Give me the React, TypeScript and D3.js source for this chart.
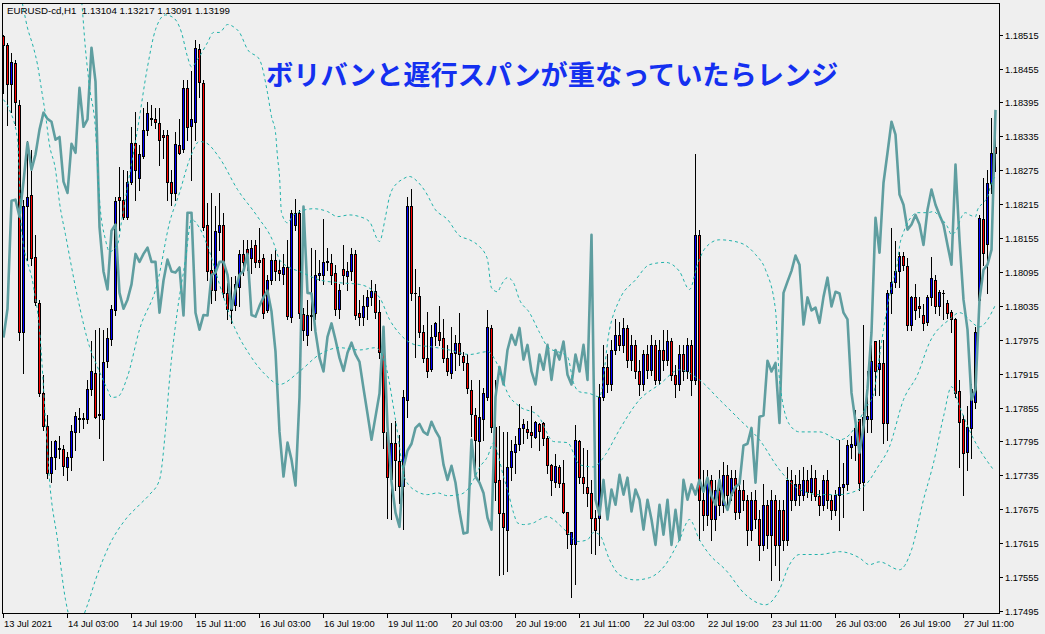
import React, { useEffect, useRef } from "react";
import * as d3 from "d3";

const W = 1045;
const H = 634;
const BG = "#efefef";

const HEADER = "EURUSD-cd,H1  1.13104 1.13217 1.13091 1.13199";
const TITLE = "ボリバンと遅行スパンが重なっていたらレンジ";

const Y_TICKS = [1.18515, 1.18455, 1.18395, 1.18335, 1.18275, 1.18215, 1.18155, 1.18095, 1.18035, 1.17975, 1.17915, 1.17855, 1.17795, 1.17735, 1.17675, 1.17615, 1.17555, 1.17495];
const X_LABELS = ["13 Jul 2021", "14 Jul 03:00", "14 Jul 19:00", "15 Jul 11:00", "16 Jul 03:00", "16 Jul 19:00", "19 Jul 11:00", "20 Jul 03:00", "20 Jul 19:00", "21 Jul 11:00", "22 Jul 03:00", "22 Jul 19:00", "23 Jul 11:00", "26 Jul 03:00", "26 Jul 19:00", "27 Jul 11:00"];
const X_LABEL_BARS = [0, 16, 32, 48, 64, 80, 96, 112, 128, 144, 160, 176, 192, 208, 224, 240];

const opens = [1.18512,1.18497,1.18427,1.18465,1.18391,1.17988,1.18211,1.18232,1.18122,1.18041,
1.17880,1.17823,1.17740,1.17768,1.17784,1.17782,1.17749,1.17768,1.17812,1.17837,
1.17837,1.17835,1.17888,1.17917,1.17844,1.17835,1.17938,1.17977,1.18028,1.18228,
1.18223,1.18193,1.18255,1.18324,1.18262,1.18301,1.18347,1.18368,1.18366,1.18359,
1.18338,1.18338,1.18255,1.18235,1.18320,1.18313,1.18421,1.18354,1.18361,1.18490,
1.18430,1.18179,1.18099,1.18064,1.18166,1.18179,1.18057,1.18028,1.18037,1.18069,
1.18127,1.18136,1.18120,1.18143,1.18117,1.18119,1.18028,1.18080,1.18117,1.18099,
1.18092,1.18104,1.18016,1.18179,1.18200,1.18021,1.17984,1.18019,1.18023,1.18090,
1.18090,1.18115,1.18111,1.18094,1.18030,1.18101,1.18088,1.18096,1.18127,1.18023,
1.18016,1.18034,1.18050,1.18062,1.18025,1.17954,1.17812,1.17729,1.17793,1.17761,
1.17717,1.17869,1.18211,1.18058,1.18053,1.17989,1.17942,1.17924,1.17982,1.17988,
1.17979,1.17943,1.17917,1.17952,1.17970,1.17947,1.17934,1.17887,1.17842,1.17795,
1.17835,1.17874,1.17996,1.17821,1.17727,1.17669,1.17639,1.17749,1.17777,1.17791,
1.17819,1.17818,1.17812,1.17803,1.17826,1.17828,1.17802,1.17754,1.17724,1.17750,
1.17722,1.17671,1.17614,1.17614,1.17796,1.17733,1.17715,1.17703,1.17660,1.17660,
1.17874,1.17927,1.17896,1.17957,1.17984,1.17966,1.17996,1.17940,1.17966,1.17919,
1.17896,1.17949,1.17922,1.17966,1.17904,1.17957,1.17940,1.17972,1.17913,1.17896,
1.17949,1.17919,1.17966,1.17904,1.18161,1.17692,1.17665,1.17727,1.17657,1.17710,
1.17683,1.17736,1.17701,1.17731,1.17671,1.17710,1.17692,1.17639,1.17692,1.17657,
1.17612,1.17683,1.17630,1.17692,1.17612,1.17674,1.17621,1.17727,1.17692,1.17719,
1.17701,1.17727,1.17706,1.17731,1.17699,1.17683,1.17727,1.17692,1.17674,1.17701,
1.17715,1.17720,1.17786,1.17788,1.17834,1.17724,1.17834,1.17834,1.17973,1.17924,
1.17934,1.17827,1.18058,1.18078,1.18097,1.18124,1.18106,1.18002,1.18050,1.18034,
1.18019,1.18007,1.18050,1.18081,1.18034,1.18058,1.18041,1.18025,1.18011,1.17885,
1.17834,1.17777,1.17819,1.17865,1.18046,1.18188,1.18145,1.18253,1.18317];

const highs = [1.18515,1.18501,1.18483,1.18471,1.18400,1.18223,1.18326,1.18311,1.18161,1.18046,
1.17913,1.17842,1.17795,1.17798,1.17805,1.17789,1.17777,1.17825,1.17848,1.17855,
1.17846,1.17904,1.17973,1.17993,1.17996,1.17993,1.17996,1.18037,1.18227,1.18280,
1.18276,1.18273,1.18352,1.18379,1.18320,1.18386,1.18395,1.18391,1.18386,1.18386,
1.18347,1.18347,1.18276,1.18342,1.18365,1.18435,1.18435,1.18450,1.18506,1.18499,
1.18435,1.18218,1.18235,1.18211,1.18235,1.18200,1.18076,1.18087,1.18088,1.18134,
1.18152,1.18152,1.18152,1.18152,1.18173,1.18126,1.18090,1.18126,1.18134,1.18117,
1.18126,1.18152,1.18205,1.18225,1.18205,1.18032,1.18046,1.18138,1.18134,1.18117,
1.18188,1.18138,1.18126,1.18108,1.18073,1.18143,1.18113,1.18138,1.18134,1.18046,
1.18055,1.18064,1.18081,1.18073,1.18046,1.17975,1.17833,1.17828,1.17832,1.17807,
1.17887,1.18228,1.18242,1.18101,1.18069,1.18002,1.18025,1.18002,1.18007,1.18034,
1.18011,1.17966,1.17998,1.17984,1.18023,1.17954,1.17949,1.17904,1.17855,1.17904,
1.17890,1.18027,1.18002,1.17904,1.17823,1.17811,1.17811,1.17798,1.17804,1.17862,
1.17834,1.17832,1.17858,1.17832,1.17828,1.17830,1.17804,1.17756,1.17772,1.17754,
1.17763,1.17671,1.17635,1.17825,1.17798,1.17784,1.17780,1.17727,1.17674,1.17896,
1.17966,1.17949,1.17975,1.18011,1.18007,1.18014,1.18002,1.17984,1.17975,1.17940,
1.17957,1.17966,1.17984,1.17975,1.17975,1.17993,1.17993,1.17979,1.17931,1.17966,
1.17966,1.17979,1.17975,1.18303,1.18170,1.17745,1.17745,1.17736,1.17727,1.17745,
1.17759,1.17754,1.17745,1.17745,1.17719,1.17727,1.17701,1.17706,1.17710,1.17674,
1.17719,1.17692,1.17710,1.17701,1.17692,1.17692,1.17749,1.17745,1.17736,1.17745,
1.17749,1.17745,1.17754,1.17745,1.17710,1.17736,1.17745,1.17701,1.17710,1.17798,
1.17757,1.17798,1.17804,1.17850,1.17834,1.18002,1.17919,1.17966,1.17973,1.17975,
1.17975,1.18064,1.18173,1.18149,1.18131,1.18131,1.18120,1.18053,1.18074,1.18050,
1.18039,1.18055,1.18122,1.18090,1.18064,1.18064,1.18046,1.18028,1.18014,1.17904,
1.17842,1.17857,1.17896,1.17998,1.18196,1.18262,1.18276,1.18368,1.18368];

const lows = [1.18412,1.18356,1.18379,1.18356,1.17975,1.17917,1.18117,1.18108,1.18037,1.17876,
1.17816,1.17731,1.17724,1.17747,1.17766,1.17736,1.17727,1.17745,1.17780,1.17812,
1.17819,1.17828,1.17878,1.17837,1.17802,1.17763,1.17926,1.17966,1.18019,1.18170,
1.18188,1.18188,1.18250,1.18223,1.18241,1.18297,1.18338,1.18356,1.18350,1.18285,
1.18297,1.18223,1.18214,1.18223,1.18303,1.18308,1.18329,1.18258,1.18329,1.18404,
1.18170,1.18081,1.18041,1.18046,1.18134,1.18051,1.18011,1.18005,1.18028,1.18034,
1.18090,1.18099,1.18094,1.18104,1.18103,1.18014,1.18025,1.18073,1.18081,1.18081,
1.18073,1.18011,1.18007,1.18170,1.18014,1.17975,1.17966,1.17993,1.18011,1.18081,
1.18073,1.18099,1.18073,1.18019,1.18014,1.18073,1.18064,1.18081,1.18011,1.18002,
1.18002,1.18011,1.18037,1.18014,1.17943,1.17784,1.17660,1.17657,1.17710,1.17687,
1.17641,1.17839,1.18046,1.17945,1.17980,1.17936,1.17910,1.17919,1.17966,1.17966,
1.17936,1.17913,1.17908,1.17922,1.17931,1.17922,1.17881,1.17804,1.17745,1.17724,
1.17798,1.17869,1.17812,1.17692,1.17558,1.17560,1.17565,1.17727,1.17740,1.17780,
1.17793,1.17802,1.17786,1.17802,1.17780,1.17789,1.17740,1.17701,1.17715,1.17715,
1.17669,1.17607,1.17520,1.17543,1.17722,1.17704,1.17680,1.17598,1.17595,1.17612,
1.17869,1.17883,1.17887,1.17949,1.17957,1.17954,1.17926,1.17922,1.17908,1.17878,
1.17887,1.17908,1.17913,1.17896,1.17896,1.17922,1.17931,1.17904,1.17873,1.17887,
1.17904,1.17908,1.17878,1.17896,1.17621,1.17638,1.17648,1.17621,1.17638,1.17665,
1.17671,1.17683,1.17692,1.17657,1.17660,1.17674,1.17612,1.17621,1.17642,1.17586,
1.17603,1.17607,1.17550,1.17577,1.17550,1.17603,1.17612,1.17674,1.17683,1.17683,
1.17692,1.17696,1.17692,1.17692,1.17665,1.17674,1.17678,1.17657,1.17665,1.17638,
1.17662,1.17710,1.17766,1.17763,1.17710,1.17674,1.17812,1.17812,1.17878,1.17878,
1.17793,1.17798,1.18023,1.18069,1.18069,1.18099,1.17993,1.17993,1.18011,1.18016,
1.17993,1.18002,1.18037,1.18023,1.18019,1.18011,1.18014,1.17989,1.17873,1.17750,
1.17701,1.17745,1.17766,1.17855,1.18023,1.18108,1.18058,1.18235,1.18273];

const closes = [1.18497,1.18427,1.18467,1.18395,1.17988,1.18212,1.18228,1.18120,1.18042,1.17880,
1.17823,1.17740,1.17768,1.17796,1.17782,1.17752,1.17768,1.17814,1.17841,1.17835,
1.17835,1.17888,1.17919,1.17839,1.17842,1.17936,1.17979,1.18030,1.18221,1.18223,
1.18193,1.18255,1.18324,1.18276,1.18303,1.18347,1.18377,1.18366,1.18361,1.18329,
1.18334,1.18255,1.18235,1.18322,1.18306,1.18421,1.18352,1.18365,1.18492,1.18432,
1.18175,1.18096,1.18064,1.18168,1.18179,1.18058,1.18030,1.18046,1.18073,1.18127,
1.18113,1.18127,1.18138,1.18113,1.18113,1.18023,1.18080,1.18117,1.18096,1.18094,
1.18103,1.18018,1.18200,1.18200,1.18023,1.17993,1.18019,1.18018,1.18090,1.18094,
1.18113,1.18113,1.18090,1.18030,1.18064,1.18090,1.18097,1.18127,1.18019,1.18016,
1.18035,1.18050,1.18062,1.18025,1.17954,1.17812,1.17733,1.17793,1.17763,1.17717,
1.17873,1.18211,1.18058,1.18057,1.17989,1.17943,1.17919,1.17980,1.18004,1.17975,
1.17943,1.17920,1.17952,1.17970,1.17949,1.17936,1.17889,1.17844,1.17798,1.17839,
1.17880,1.17998,1.17821,1.17724,1.17669,1.17644,1.17749,1.17779,1.17791,1.17819,
1.17826,1.17812,1.17807,1.17830,1.17814,1.17802,1.17754,1.17727,1.17752,1.17722,
1.17671,1.17632,1.17634,1.17798,1.17733,1.17722,1.17704,1.17660,1.17639,1.17874,
1.17927,1.17896,1.17957,1.17984,1.17966,1.17996,1.17940,1.17966,1.17919,1.17896,
1.17949,1.17922,1.17966,1.17904,1.17957,1.17940,1.17972,1.17913,1.17896,1.17949,
1.17919,1.17966,1.17904,1.18161,1.17692,1.17665,1.17727,1.17657,1.17710,1.17683,
1.17736,1.17701,1.17731,1.17671,1.17710,1.17692,1.17639,1.17692,1.17657,1.17612,
1.17683,1.17630,1.17692,1.17612,1.17674,1.17621,1.17727,1.17692,1.17719,1.17701,
1.17727,1.17706,1.17731,1.17699,1.17683,1.17727,1.17692,1.17674,1.17701,1.17715,
1.17720,1.17788,1.17791,1.17819,1.17722,1.17839,1.17841,1.17938,1.17919,1.17934,
1.17828,1.18058,1.18078,1.18097,1.18124,1.18108,1.18002,1.18050,1.18027,1.18032,
1.18005,1.18051,1.18085,1.18034,1.18060,1.18057,1.18023,1.18011,1.17881,1.17830,
1.17775,1.17821,1.17888,1.17988,1.18191,1.18129,1.18253,1.18306,1.18306];

const chikou = [1.17979,1.18030,1.18221,1.18223,1.18193,1.18255,1.18324,1.18276,1.18303,1.18347,
1.18377,1.18366,1.18361,1.18329,1.18334,1.18255,1.18235,1.18322,1.18306,1.18421,
1.18352,1.18365,1.18492,1.18432,1.18175,1.18096,1.18064,1.18168,1.18179,1.18058,
1.18030,1.18046,1.18073,1.18127,1.18113,1.18127,1.18138,1.18113,1.18113,1.18023,
1.18080,1.18117,1.18096,1.18094,1.18103,1.18018,1.18200,1.18200,1.18023,1.17993,
1.18019,1.18018,1.18090,1.18094,1.18113,1.18113,1.18090,1.18030,1.18064,1.18090,
1.18097,1.18127,1.18019,1.18016,1.18035,1.18050,1.18062,1.18025,1.17954,1.17812,
1.17733,1.17793,1.17763,1.17717,1.17873,1.18211,1.18058,1.18057,1.17989,1.17943,
1.17919,1.17980,1.18004,1.17975,1.17943,1.17920,1.17952,1.17970,1.17949,1.17936,
1.17889,1.17844,1.17798,1.17839,1.17880,1.17998,1.17821,1.17724,1.17669,1.17644,
1.17749,1.17779,1.17791,1.17819,1.17826,1.17812,1.17807,1.17830,1.17814,1.17802,
1.17754,1.17727,1.17752,1.17722,1.17671,1.17632,1.17634,1.17798,1.17733,1.17722,
1.17704,1.17660,1.17639,1.17874,1.17927,1.17896,1.17957,1.17984,1.17966,1.17996,
1.17940,1.17966,1.17919,1.17896,1.17949,1.17922,1.17966,1.17904,1.17957,1.17940,
1.17972,1.17913,1.17896,1.17949,1.17919,1.17966,1.17904,1.18161,1.17692,1.17665,
1.17727,1.17657,1.17710,1.17683,1.17736,1.17701,1.17731,1.17671,1.17710,1.17692,
1.17639,1.17692,1.17657,1.17612,1.17683,1.17630,1.17692,1.17612,1.17674,1.17621,
1.17727,1.17692,1.17719,1.17701,1.17727,1.17706,1.17731,1.17699,1.17683,1.17727,
1.17692,1.17674,1.17701,1.17715,1.17720,1.17788,1.17791,1.17819,1.17722,1.17839,
1.17841,1.17938,1.17919,1.17934,1.17828,1.18058,1.18078,1.18097,1.18124,1.18108,
1.18002,1.18050,1.18027,1.18032,1.18005,1.18051,1.18085,1.18034,1.18060,1.18057,
1.18023,1.18011,1.17881,1.17830,1.17775,1.17821,1.17888,1.17988,1.18191,1.18129,
1.18253,1.18306,1.18361,1.18338,1.18232,1.18214,1.18170,1.18179,1.18196,1.18179,
1.18143,1.18205,1.18241,1.18214,1.18196,1.18179,1.18143,1.18108,1.18285,1.18152,
1.18046,1.17993,1.17869,1.17887,1.18046,1.18099,1.18108,1.18134,1.18382];

const upperBars = [0,9,16.5,19.5,20.5,21.5,23,24,25.5,26.5,28.5,29.5,31,33.5,36,38,40.5,42.5,44.5,46,47,48.5,51,52.5,54,56,57.5,59,61,64,66,67,68,68.5,69,69.5,71,72.5,77.5,81,83.5,86.5,89,91.5,94,95.5,96.5,98.5,99.5,101.5,103.5,105.5,108,111,114,116.5,119,120.5,121,122,123.5,124.5,126,127.5,129,131.5,134,136,141,142.5,144,146.5,149,151.5,154,158,161.5,165.5,169,171.5,173.5,175.5,179,184,188,190.5,193,194,196.5,199,204,209,211.5,214,215.75,217.5,218.5,220,221,222,223.5,224,225,227,228.5,231,232.5,234,236,237,238.5,239,240.5,241.5,243,243.5,245,246,247,248];
const upperVals = [1.18825,1.18789,1.18683,1.18577,1.18489,1.18423,1.18347,1.18223,1.18152,1.18131,1.18143,1.18184,1.18246,1.18347,1.18458,1.18524,1.18550,1.18545,1.18519,1.18476,1.18458,1.18471,1.18501,1.18519,1.18519,1.18533,1.18529,1.18519,1.18489,1.18471,1.18412,1.18370,1.18342,1.18299,1.18264,1.18200,1.18182,1.18196,1.18207,1.18202,1.18193,1.18196,1.18193,1.18184,1.18149,1.18193,1.18228,1.18253,1.18258,1.18264,1.18255,1.18237,1.18205,1.18188,1.18159,1.18152,1.18140,1.18126,1.18117,1.18067,1.18060,1.18073,1.18085,1.18076,1.18046,1.18023,1.17988,1.17963,1.17945,1.17899,1.17883,1.17880,1.17874,1.17993,1.18046,1.18081,1.18108,1.18112,1.18096,1.18064,1.18108,1.18138,1.18152,1.18147,1.18126,1.18099,1.18028,1.17904,1.17825,1.17812,1.17812,1.17798,1.17807,1.17834,1.17857,1.17878,1.17922,1.17993,1.18034,1.18069,1.18112,1.18140,1.18165,1.18193,1.18200,1.18200,1.18202,1.18193,1.18175,1.18161,1.18173,1.18184,1.18200,1.18196,1.18193,1.18205,1.18218,1.18228,1.18253,1.18264];

const midBars = [0,4.5,6,7.5,8.5,9.5,10.5,11.5,13,14,15.5,18.5,21.5,23.5,26,27,28.5,31,34,38.5,41.5,44,46.5,49,50.5,54,58.5,63.5,67.5,69,71.5,74,79,84,89,94,96.5,99,103,106.5,111.5,116.5,121,123.5,126,129,133.5,137.5,141,144,147.5,150.5,154,159,164,169,174,179,184,189,194,199,204,209,215,218.5,221.5,225,228.5,231.5,236.5,239,244,248];
const midVals = [1.18648,1.18577,1.18527,1.18492,1.18462,1.18418,1.18373,1.18320,1.18276,1.18218,1.18161,1.18051,1.17963,1.17927,1.17887,1.17873,1.17874,1.17910,1.17993,1.18076,1.18182,1.18235,1.18294,1.18326,1.18324,1.18297,1.18241,1.18193,1.18147,1.18117,1.18103,1.18096,1.18081,1.18076,1.18073,1.18050,1.18011,1.17986,1.17966,1.17963,1.17957,1.17949,1.17954,1.17931,1.17881,1.17857,1.17842,1.17795,1.17793,1.17754,1.17750,1.17772,1.17816,1.17869,1.17896,1.17922,1.17904,1.17869,1.17834,1.17798,1.17745,1.17710,1.17701,1.17701,1.17715,1.17749,1.17786,1.17869,1.17913,1.17970,1.18011,1.18023,1.17998,1.18037];

const lowBars = [0,1.5,3.5,4.5,7.5,9,10.5,11.5,13.5,15.5,18,21,23,26.5,30.5,34,36.5,39,40.5,41.5,43.5,45.5,47,49,51.5,54,58,61.5,65.5,69,74,79,84,89,93,95.5,98,100.5,103.5,106,108.5,111,114,116,117.5,119,121,122.5,123.5,125,126,127.5,128.5,130,132.5,134,136,137.5,139.5,141,143.5,146,147.5,149,151.5,154,158,161.5,165.5,169,171.5,174,176.5,180.5,185.5,190.5,194,196.5,199,204,209,214,216.5,219,224,227,230,232.5,235,237,239,242,247.5];
const lowVals = [1.18400,1.18382,1.18329,1.18170,1.18069,1.17993,1.17834,1.17727,1.17621,1.17515,1.17462,1.17506,1.17550,1.17612,1.17657,1.17683,1.17701,1.17727,1.17816,1.17904,1.18028,1.18117,1.18188,1.18173,1.18131,1.18073,1.17993,1.17949,1.17913,1.17896,1.17919,1.17949,1.17961,1.17957,1.17961,1.17931,1.17834,1.17727,1.17706,1.17701,1.17704,1.17699,1.17701,1.17710,1.17727,1.17749,1.17768,1.17793,1.17775,1.17733,1.17710,1.17669,1.17651,1.17648,1.17651,1.17657,1.17662,1.17657,1.17644,1.17634,1.17618,1.17621,1.17634,1.17630,1.17586,1.17559,1.17550,1.17554,1.17577,1.17621,1.17657,1.17621,1.17595,1.17568,1.17524,1.17506,1.17533,1.17577,1.17595,1.17595,1.17600,1.17589,1.17577,1.17582,1.17568,1.17603,1.17692,1.17757,1.17839,1.17892,1.17857,1.17807,1.17745];

export default function App() {
  const ref = useRef<SVGSVGElement>(null);

  useEffect(() => {
    const svg = d3.select(ref.current as SVGSVGElement);
    svg.selectAll("*").remove();

    const x = d3.scaleLinear().domain([0, 248]).range([3.5, 995.5]);
    const y = d3.scaleLinear().domain([1.17495, 1.18515]).range([611, 34.7]);

    svg.append("rect").attr("width", W).attr("height", H).attr("fill", BG);

    const defs = svg.append("defs");
    defs.append("clipPath").attr("id", "plotclip")
      .append("rect").attr("x", 3).attr("y", 4).attr("width", 996).attr("height", 609);

    const plot = svg.append("g").attr("clip-path", "url(#plotclip)");

    // candles
    const cg = plot.append("g").attr("shape-rendering", "crispEdges");
    opens.forEach((o, i) => {
      const c = closes[i];
      const cx = Math.floor(x(i));
      const yh = Math.round(y(highs[i]));
      const yl = Math.round(y(lows[i]));
      const yo = Math.round(y(o));
      const yc = Math.round(y(c));
      cg.append("rect").attr("x", cx).attr("y", yh).attr("width", 1)
        .attr("height", Math.max(1, yl - yh + 1)).attr("fill", "#000");
      const top = Math.min(yo, yc);
      const bot = Math.max(yo, yc);
      const h = bot - top;
      cg.append("rect").attr("x", cx - 1).attr("y", top).attr("width", 3)
        .attr("height", Math.max(1, h + 1)).attr("fill", "#000");
      if (h >= 2) {
        cg.append("rect").attr("x", cx).attr("y", top + 1).attr("width", 1)
          .attr("height", h - 1).attr("fill", c > o ? "#0000ff" : "#ff0000");
      }
    });

    // chikou span
    const chLine = d3.line<number>().x((_, i) => x(i)).y((v) => y(v));
    plot.append("path").attr("d", chLine(chikou) as string)
      .attr("fill", "none").attr("stroke", "#5f9ea0").attr("stroke-width", 2.6)
      .attr("stroke-linejoin", "round");

    // bollinger bands
    const bandLine = d3.line<[number, number]>()
      .x((d) => x(d[0])).y((d) => y(d[1])).curve(d3.curveMonotoneX);
    const bands: [number[], number[]][] = [
      [upperBars, upperVals],
      [midBars, midVals],
      [lowBars, lowVals],
    ];
    bands.forEach(([bars, vals]) => {
      const n = Math.min(bars.length, vals.length);
      const pts: [number, number][] = [];
      for (let k = 0; k < n; k++) pts.push([bars[k], vals[k]]);
      plot.append("path").attr("d", bandLine(pts) as string)
        .attr("fill", "none").attr("stroke", "#20b2aa").attr("stroke-width", 1)
        .attr("stroke-dasharray", "3,3");
    });

    // frame
    const fg = svg.append("g").attr("shape-rendering", "crispEdges");
    fg.append("rect").attr("x", 2.5).attr("y", 3.5).attr("width", 997).attr("height", 610)
      .attr("fill", "none").attr("stroke", "#000").attr("stroke-width", 1);

    // y axis
    Y_TICKS.forEach((t) => {
      const yy = Math.round(y(t)) + 0.5;
      fg.append("line").attr("x1", 999.5).attr("x2", 1003).attr("y1", yy).attr("y2", yy)
        .attr("stroke", "#000");
      svg.append("text").attr("x", 1005).attr("y", yy + 3.5)
        .attr("font-family", "'Liberation Sans', Arial, sans-serif").attr("font-size", 9.3)
        .attr("fill", "#000").text(t.toFixed(5));
    });

    // x axis
    X_LABELS.forEach((lab, k) => {
      const xx = Math.floor(x(X_LABEL_BARS[k])) + 0.5;
      fg.append("line").attr("x1", xx).attr("x2", xx).attr("y1", 613.5).attr("y2", 618)
        .attr("stroke", "#000");
      svg.append("text").attr("x", xx + 0.5).attr("y", 626.5)
        .attr("font-family", "'Liberation Sans', Arial, sans-serif").attr("font-size", 9.3)
        .attr("fill", "#000").text(lab);
    });

    // header
    svg.append("text").attr("x", 7).attr("y", 13.5)
      .attr("font-family", "'Liberation Sans', Arial, sans-serif").attr("font-size", 9.7)
      .attr("fill", "#000").style("white-space", "pre").text(HEADER);

    // title
    svg.append("text").attr("x", 266).attr("y", 85)
      .attr("font-family", "'Noto Sans CJK JP', 'Noto Sans CJK SC', sans-serif")
      .attr("font-size", 27.2).attr("font-weight", "bold")
      .attr("fill", "#1430f0").text(TITLE);
  }, []);

  return (
    <svg ref={ref} width={W} height={H}
      style={{ position: "fixed", left: 0, top: 0, display: "block" }} />
  );
}
